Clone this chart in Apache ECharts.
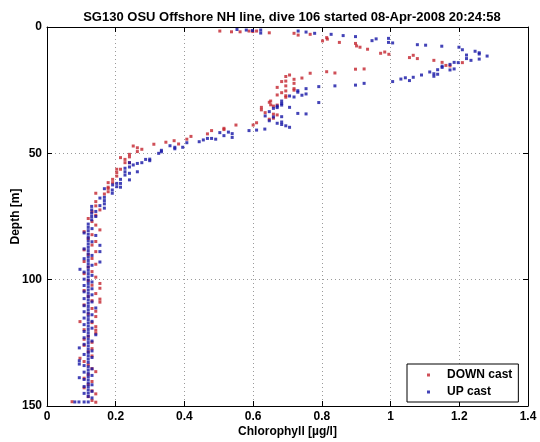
<!DOCTYPE html>
<html>
<head>
<meta charset="utf-8">
<script src="https://cdn.jsdelivr.net/npm/echarts@6/dist/echarts.min.js"></script>
<style>html,body{margin:0;padding:0;background:#fff}#c{width:540px;height:442px}</style>
</head>
<body>
<div id="c"></div>
<script>
const titleText = 'SG130 OSU Offshore NH line, dive 106 started 08-Apr-2008 20:24:58';
const xName = 'Chlorophyll [µg/l]';
const yName = 'Depth [m]';
const xTicks = [0, 0.2, 0.4, 0.6, 0.8, 1, 1.2, 1.4];
const yTicks = [0, 50, 100, 150];
const seriesNames = ['DOWN cast', 'UP cast'];

// [chlorophyll, depth]
const downCast = [
[0.503,1.6],[0.537,1.9],[0.562,1.9],[0.588,1.6],[0.599,1.8],[0.610,1.6],[0.647,2.3],[0.719,2.5],[0.731,3.2],[0.766,2.9],
[0.802,5.5],[0.814,4.2],[0.816,4.8],[0.851,6.1],[0.898,6.5],[0.901,7.5],[0.911,8.0],[0.933,8.8],[0.971,10.4],[0.983,9.9],[0.995,10.8],[1.055,12.1],[1.066,11.2],[1.078,12.5],[1.126,13.2],[1.150,14.0],[1.161,15.2],[1.173,15.4],[1.209,14.1],
[0.814,17.7],[0.838,18.2],[0.898,16.7],[0.923,16.6],[0.766,18.3],[0.742,20.2],[0.706,19.0],[0.695,19.6],[0.695,21.4],[0.683,21.6],[0.719,20.7],[0.719,22.3],[0.695,23.3],[0.719,24.4],[0.719,25.0],[0.695,25.3],[0.683,26.0],[0.695,27.2],[0.695,27.8],[0.670,23.9],[0.670,26.9],
[0.651,29.3],[0.647,29.8],[0.651,30.8],[0.659,31.3],[0.624,31.8],[0.624,32.8],[0.670,30.9],[0.635,33.9],[0.659,34.5],[0.670,34.8],[0.659,36.1],[0.647,36.5],[0.600,38.8],[0.610,37.9],[0.550,38.8],[0.515,40.1],[0.515,40.6],
[0.479,41.0],[0.467,42.3],[0.419,43.3],[0.407,44.4],[0.383,46.3],[0.370,45.0],[0.346,45.6],[0.311,46.4],[0.251,47.1],[0.263,47.8],[0.276,48.4],[0.263,49.3],
[0.240,50.4],[0.240,51.4],[0.214,51.7],[0.227,52.4],[0.227,53.7],[0.240,53.7],[0.214,56.3],[0.203,56.3],[0.203,57.6],[0.203,59.0],[0.191,60.3],[0.191,61.6],[0.178,61.6],[0.178,63.4],[0.178,63.9],[0.178,65.2],[0.167,66.1],[0.142,65.8],[0.142,69.1],[0.142,70.8],[0.154,72.4],
[0.131,73.1],[0.142,74.5],[0.120,75.8],[0.131,77.0],[0.142,78.4],[0.154,80.3],[0.108,81.0],[0.131,82.2],[0.120,83.7],[0.142,84.9],[0.131,86.3],[0.108,88.2],[0.142,88.9],[0.120,90.1],[0.131,91.6],[0.108,92.8],[0.142,93.9],[0.120,95.0],[0.131,96.8],[0.108,97.6],[0.142,99.0],[0.154,101.5],[0.154,103.4],[0.120,100.4],[0.131,102.2],[0.108,104.3],[0.142,105.5],[0.120,106.6],[0.154,107.7],[0.131,108.3],[0.154,108.9],[0.108,110.0],[0.131,111.4],[0.142,112.5],[0.120,113.6],[0.142,114.6],[0.096,116.6],[0.131,117.0],[0.142,118.6],[0.142,120.0],[0.142,121.2],[0.108,119.8],[0.120,122.4],[0.108,123.6],[0.131,124.8],[0.108,126.0],[0.131,127.3],[0.120,128.5],[0.096,131.1],[0.131,130.2],[0.108,132.4],[0.120,133.7],[0.142,136.4],[0.131,135.2],[0.120,137.6],[0.108,139.0],[0.131,140.3],[0.120,141.5],[0.108,142.8],[0.131,144.0],[0.142,145.2],[0.120,146.3],[0.131,147.8],[0.142,148.5],[0.073,148.3]
];

const upCast = [
[0.553,1.0],[0.580,1.2],[0.598,1.4],[0.622,1.2],[0.622,2.4],[0.731,1.6],[0.754,2.0],[0.779,2.5],[0.827,2.9],[0.862,3.4],[0.898,3.8],[0.946,5.4],[0.958,4.7],[0.994,4.5],[0.994,6.1],[1.006,6.3],
[1.078,7.0],[1.102,7.2],[1.149,7.6],[1.199,8.0],[1.209,9.0],[1.221,11.1],[1.221,12.5],[1.234,13.2],[1.246,9.6],[1.258,10.2],[1.258,10.7],[1.258,12.7],[1.281,11.5],[1.150,15.5],[1.150,16.0],[1.173,14.8],[1.173,17.0],[1.185,14.0],[1.185,16.6],[1.197,14.1],[1.137,16.9],[1.114,17.8],[1.126,18.5],[1.126,19.5],[1.137,18.7],[1.090,19.0],[1.066,19.9],[1.055,21.2],[1.043,20.1],[1.030,20.6],[1.006,21.6],
[0.838,23.3],[0.898,23.0],[0.923,22.3],[0.791,23.6],[0.791,29.9],[0.730,25.2],[0.730,25.8],[0.754,24.4],[0.742,27.0],[0.754,26.5],[0.706,27.3],[0.719,27.7],[0.683,29.3],[0.683,30.3],[0.683,30.9],[0.670,31.3],[0.670,31.9],[0.659,32.2],[0.706,31.8],[0.730,34.2],[0.754,34.4],[0.683,35.5],[0.647,33.5],[0.635,35.2],[0.659,35.6],[0.647,37.1],[0.670,38.1],[0.683,37.6],[0.683,38.6],[0.695,39.1],[0.706,39.7],[0.634,40.4],[0.610,40.8],[0.588,41.0],
[0.539,42.2],[0.539,43.7],[0.528,41.6],[0.515,43.0],[0.503,41.8],[0.491,44.4],[0.479,44.1],[0.467,44.1],[0.455,44.7],[0.443,45.4],[0.407,45.8],[0.395,47.6],[0.372,47.6],[0.372,48.2],[0.358,47.0],[0.333,48.8],[0.333,49.4],[0.325,50.0],[0.299,52.3],[0.299,52.9],[0.287,52.4],[0.276,53.7],[0.263,54.0],[0.251,54.6],[0.240,53.7],[0.240,55.4],[0.227,55.9],[0.227,57.3],[0.227,58.6],[0.240,57.9],[0.263,57.3],[0.240,60.5],[0.214,60.3],[0.214,61.9],[0.214,63.4],[0.191,62.5],[0.167,64.0],
[0.203,61.9],[0.203,63.2],[0.190,64.5],[0.190,65.8],[0.167,67.4],[0.167,68.7],[0.154,67.7],[0.167,70.0],[0.167,71.7],[0.154,70.7],[0.130,71.0],[0.130,72.4],[0.130,73.7],[0.142,73.0],[0.142,75.0],[0.130,75.0],[0.130,76.3],
[0.120,78.0],[0.120,79.3],[0.131,79.8],[0.120,80.6],[0.108,81.5],[0.120,82.0],[0.142,82.5],[0.120,83.3],[0.120,84.6],[0.131,85.0],[0.120,85.9],[0.154,86.4],[0.120,87.2],[0.108,87.8],[0.120,88.5],[0.154,88.9],[0.120,89.8],[0.131,90.4],[0.120,91.1],[0.108,91.7],[0.120,92.4],[0.154,93.0],[0.120,93.7],[0.131,94.3],[0.120,95.0],[0.096,95.9],[0.120,96.3],[0.108,97.0],[0.120,97.6],[0.131,98.3],[0.120,98.9],[0.108,99.8],[0.120,100.2],[0.131,100.9],[0.120,101.5],[0.108,102.3],[0.120,102.8],[0.131,103.6],[0.120,104.1],[0.108,104.8],[0.120,105.4],[0.131,106.0],[0.120,106.7],[0.108,107.5],[0.120,108.0],[0.131,108.8],[0.120,109.3],[0.108,110.3],[0.120,110.6],[0.142,111.2],[0.120,111.9],[0.108,112.7],[0.120,113.2],[0.131,113.9],[0.120,114.5],[0.108,115.2],[0.120,115.8],[0.131,116.5],[0.120,117.1],[0.108,117.8],[0.120,118.4],[0.131,119.2],[0.120,119.7],[0.108,120.5],[0.120,121.0],[0.142,121.8],[0.120,122.3],[0.108,123.0],[0.120,123.6],[0.131,124.3],[0.120,124.9],[0.108,125.6],[0.120,126.2],[0.094,127.0],[0.120,127.5],[0.131,128.2],[0.120,128.8],[0.108,129.6],[0.120,130.1],[0.131,130.8],[0.120,131.4],[0.094,132.1],[0.094,133.4],[0.120,132.7],[0.108,134.0],[0.120,134.5],[0.131,135.3],[0.120,135.8],[0.108,136.6],[0.120,137.1],[0.131,137.9],[0.120,138.4],[0.094,138.8],[0.108,139.5],[0.120,139.7],[0.120,141.0],[0.131,141.6],[0.108,142.3],[0.120,142.3],[0.120,143.6],[0.131,144.2],[0.108,145.0],[0.120,144.9],[0.120,146.2],[0.131,146.8],[0.081,148.4],[0.093,148.4],[0.108,148.4],[0.120,148.4]
];

const FONT = "'Liberation Sans', Arial, Helvetica, sans-serif";
const RED = 'rgb(195,35,45)';
const BLUE = 'rgb(20,20,165)';

const chart = echarts.init(document.getElementById('c'), null, {renderer: 'canvas'});
const xMin = xTicks[0], xMax = xTicks[xTicks.length - 1], xInt = xTicks[1] - xTicks[0];
const yMin = yTicks[0], yMax = yTicks[yTicks.length - 1], yInt = yTicks[1] - yTicks[0];
const gridLine = {show: true, lineStyle: {color: '#9a9a9a', width: 1, type: [1, 3]}};
const axisLine = {show: true, onZero: false, lineStyle: {color: '#000', width: 1}};
const tick = {show: true, inside: true, length: 5, lineStyle: {color: '#000'}};

chart.setOption({
  animation: false,
  backgroundColor: '#fff',
  title: {
    text: titleText, left: 287, top: 6, textAlign: 'center',
    textStyle: {fontFamily: FONT, fontSize: 13, fontWeight: 'bold', color: '#000'}
  },
  grid: {left: 47, right: 12, top: 27, bottom: 36, containLabel: false, outerBoundsMode: 'none'},
  legend: {
    orient: 'vertical', left: 407, top: 364,
    data: seriesNames,
    backgroundColor: '#fff', borderColor: '#000', borderWidth: 1,
    padding: [4, 6, 3, 20], itemGap: 3, itemWidth: 3, itemHeight: 3,
    icon: 'rect',
    textStyle: {fontFamily: FONT, fontSize: 12, fontWeight: 'bold', color: '#000', lineHeight: 14, padding: [0, 0, 0, 12]}
  },
  xAxis: [
    {type: 'value', min: xMin, max: xMax, interval: xInt, position: 'bottom',
     name: xName, nameLocation: 'middle', nameGap: 20, nameMoveOverlap: false,
     nameTextStyle: {fontFamily: FONT, fontSize: 12, fontWeight: 'bold', color: '#000'},
     axisLine: axisLine, axisTick: tick, splitLine: gridLine,
     axisLabel: {fontFamily: FONT, fontSize: 12, fontWeight: 'bold', color: '#000', margin: 5}},
    {type: 'value', min: xMin, max: xMax, interval: xInt, position: 'top',
     axisLine: axisLine, axisTick: tick, splitLine: {show: false}, axisLabel: {show: false}}
  ],
  yAxis: [
    {type: 'value', inverse: true, min: yMin, max: yMax, interval: yInt, position: 'left',
     name: yName, nameLocation: 'middle', nameGap: 25, nameRotate: 90, nameMoveOverlap: false,
     nameTextStyle: {fontFamily: FONT, fontSize: 12, fontWeight: 'bold', color: '#000'},
     axisLine: axisLine, axisTick: tick, splitLine: gridLine,
     axisLabel: {fontFamily: FONT, fontSize: 12, fontWeight: 'bold', color: '#000', margin: 5}},
    {type: 'value', inverse: true, min: yMin, max: yMax, interval: yInt, position: 'right',
     axisLine: axisLine, axisTick: tick, splitLine: {show: false}, axisLabel: {show: false}}
  ],
  series: [
    {name: seriesNames[0], type: 'scatter', xAxisIndex: 0, yAxisIndex: 0, data: downCast,
     symbol: 'rect', symbolSize: 3, itemStyle: {color: RED}},
    {name: seriesNames[1], type: 'scatter', xAxisIndex: 0, yAxisIndex: 0, data: upCast,
     symbol: 'rect', symbolSize: 3, itemStyle: {color: BLUE}}
  ]
});
</script>
</body>
</html>
